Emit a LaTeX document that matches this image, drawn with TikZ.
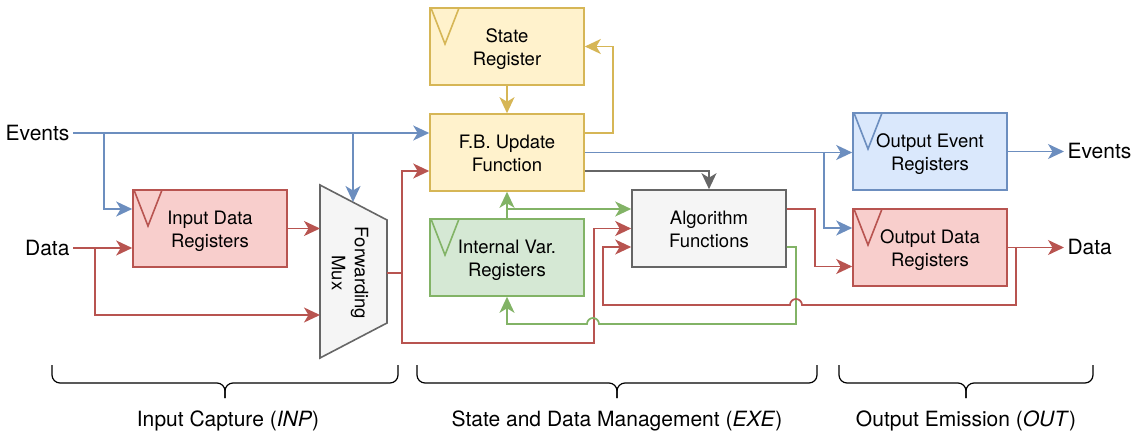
\documentclass[tikz,border=0pt]{standalone}
\usepackage{fontspec}
\setmainfont{TeX Gyre Heros}
\usetikzlibrary{arrows.meta}

\definecolor{bluel}{HTML}{6C8EBF}
\definecolor{bluef}{HTML}{DAE8FC}
\definecolor{redl}{HTML}{B85450}
\definecolor{redf}{HTML}{F8CECC}
\definecolor{yell}{HTML}{D6B656}
\definecolor{yelf}{HTML}{FFF2CC}
\definecolor{grnl}{HTML}{82B366}
\definecolor{grnf}{HTML}{D5E8D4}
\definecolor{gryl}{HTML}{666666}
\definecolor{gryf}{HTML}{F5F5F5}

\tikzset{
  box/.style={draw, rectangle, line width=1.6pt, minimum width=154pt, minimum height=77pt, align=center, font=\fontsize{18.5}{23}\selectfont, text height=42pt, text depth=4pt},
  reg/.style={path picture={\draw[#1, line width=1.6pt] ([xshift=1pt]path picture bounding box.north west) -- ++(14pt,-36pt) -- ++(14pt,36pt);}},
  arw/.style={line width=1.7pt, -{Stealth[length=16pt,width=15pt,inset=4.5pt]}},
  lbl/.style={font=\fontsize{21}{25}\selectfont},
  brc/.style={line width=1.2pt, rounded corners=8pt},
}

\begin{document}
\begin{tikzpicture}[x=1pt, y=-1pt]
\useasboundingbox (0,0) rectangle (1136,433);

% blocks
\node (sr) [box, draw=yell, fill=yelf, reg=yell] at (507,46.5) {State\\Register};
\node (fb) [box, draw=yell, fill=yelf] at (507,152.5) {F.B. Update\\Function};
\node (ivr) [box, draw=grnl, fill=grnf, reg=grnl] at (507,257.5) {Internal Var.\\Registers};
\node (alg) [box, draw=gryl, fill=gryf] at (709,228.5) {Algorithm\\Functions};
\node (idr) [box, draw=redl, fill=redf, reg=redl] at (210,228.5) {Input Data\\Registers};
\node (oer) [box, draw=bluel, fill=bluef, reg=bluel] at (930,151.5) {Output Event\\Registers};
\node (odr) [box, draw=redl, fill=redf, reg=redl] at (930,247.5) {Output Data\\Registers};

% mux
\draw[line width=1.6pt, draw=gryl, fill=gryf] (320,185) -- (387,220) -- (387,323) -- (320,358) -- cycle;
\node (mux) [rotate=-90, align=center, font=\fontsize{18.5}{23}\selectfont] at (350,273) {Forwarding\\Mux};
\coordinate (muxa) at (320,228.5);
\coordinate (muxb) at (320,315);
\coordinate (muxc) at (353,202);
\coordinate (muxo) at (387,273);

% in / out labels
\node (evin) [lbl, anchor=east] at (73,133) {Events};
\node (datain) [lbl, anchor=east] at (73,248) {Data};
\node (evout) [lbl, anchor=west] at (1064,151.5) {Events};
\node (dataout) [lbl, anchor=west] at (1064,247.5) {Data};

% taps
\coordinate (evtap) at (104,133);
\coordinate (evtapb) at (353,133);
\coordinate (dtap) at (95,248);
\coordinate (muxtap) at (402,273);
\coordinate (fbtap) at (824,152.5);
\coordinate (ivtap) at (507,209);
\coordinate (odtap) at (1016,247.5);

% events
\draw[arw, bluel] (evin.east) -- (evin.east -| fb.west);
\draw[arw, bluel] (evtap) |- ([yshift=19.5pt]idr.west);
\draw[arw, bluel] (evtapb) -- (muxc);

% data
\draw[arw, redl] (datain.east) -- ([yshift=-19.5pt]idr.west);
\draw[arw, redl] (dtap) |- (muxb);
\draw[arw, redl] (idr.east) -- (muxa);
\draw[arw, redl] (muxo) -- (muxtap) |- ([yshift=-18.5pt]fb.west);
\draw[arw, redl] (muxtap) |- (594,343) |- (alg.west);

% state
\draw[arw, yell] (sr) -- (fb);
\draw[arw, yell] ([yshift=19.5pt]fb.east) -- (613,133) |- (sr.east);

% update function outputs
\draw[arw, bluel] (fb.east) -- (fb.east -| oer.west);
\draw[arw, bluel] (fbtap) |- ([yshift=19.5pt]odr.west);
\draw[arw, gryl] ([yshift=-18.5pt]fb.east) -| (alg.north);

% internal variables
\draw[arw, grnl] (ivr.north) -- (fb.south);
\draw[arw, grnl] (ivtap) -- ([yshift=19.5pt]alg.west);
\draw[arw, grnl] ([yshift=-18.5pt]alg.east) -| (796,324) -- (599,324) arc[start angle=0, end angle=180, radius=6pt] -- (507,324) -- (ivr.south);

% algorithm outputs
\draw[arw, redl] ([yshift=19.5pt]alg.east) -- (815,209) |- ([yshift=-19pt]odr.west);
\draw[arw, redl] (odtap) -- (1016,305) -- (802,305) arc[start angle=0, end angle=180, radius=6pt] -- (603,305) |- ([yshift=-18.5pt]alg.west);

% outputs
\draw[arw, bluel] (oer.east) -- (evout.west);
\draw[arw, redl] (odr.east) -- (dataout.west);

% braces
\draw[brc] (52,365) -- (52,383) -- (225,383) -- (225,398);
\draw[brc] (398,365) -- (398,383) -- (225,383) -- (225,398);
\draw[brc] (417,365) -- (417,383) -- (617,383) -- (617,398);
\draw[brc] (817,365) -- (817,383) -- (617,383) -- (617,398);
\draw[brc] (839,365) -- (839,383) -- (966,383) -- (966,398);
\draw[brc] (1093,365) -- (1093,383) -- (966,383) -- (966,398);
\node (inp) [lbl] at (228,421) {Input Capture (\textit{INP})};
\node (exe) [lbl] at (617,421) {State and Data Management (\textit{EXE})};
\node (out) [lbl] at (966,421) {Output Emission (\textit{OUT})};
\end{tikzpicture}
\end{document}
